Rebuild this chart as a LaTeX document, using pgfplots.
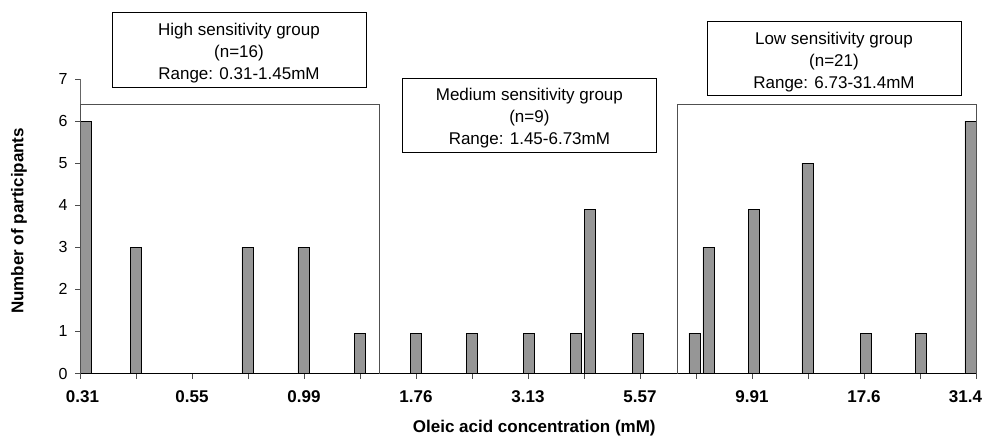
\documentclass[border=0pt]{standalone}
\usepackage{fontspec}
\setmainfont{Liberation Sans}
\usepackage{pgfplots}
\pgfplotsset{compat=1.18}
\definecolor{barfill}{RGB}{150,150,150}
\definecolor{framegray}{RGB}{80,80,80}
\begin{document}
\begin{tikzpicture}
\begin{axis}[
 scale only axis, width=896pt, height=294.5pt,
 xmin=0, xmax=16, ymin=0, ymax=7,
 clip=false,
 axis x line*=bottom, axis y line*=left,
 separate axis lines,
 x axis line style={-, black, line width=1.5pt},
 y axis line style={-, black!60, line width=0.8pt},
 tick align=outside,
 major tick length=5pt,
 xtick={0,...,16},
 xticklabels={\makebox[38pt][r]{0.31},,0.55,,0.99,,1.76,,3.13,,5.57,,9.91,,17.6,,\makebox[12pt][r]{31.4}},
 ytick={0,...,7},
 tick style={black!70, line width=0.6pt},
 /pgf/number format/assume math mode=true,
 xticklabel style={font=\fontsize{17}{17}\selectfont\bfseries, yshift=-9pt},
 yticklabel style={font=\fontsize{16}{16}\selectfont, xshift=-4pt},
 xlabel={Oleic acid concentration (mM)},
 ylabel={Number of participants},
 label style={font=\fontsize{17}{17}\selectfont\bfseries},
 xlabel style={at={(rel axis cs:0.507,-0.185)}, anchor=center},
 ylabel style={at={(rel axis cs:-0.0681,0.518)}, anchor=center},
]
\addplot[ybar, bar width=0.196, bar shift=0pt, fill=barfill, draw=black, line width=0.6pt] coordinates {
 (0.098,6) (1.0,3) (2.99,3) (3.99,3) (5.0,0.96) (6.0,0.96) (7.0,0.96) (8.01,0.96)
 (8.857,0.96) (9.098,3.9) (9.955,0.96) (10.97,0.96) (11.22,3) (12.03,3.9)
 (12.99,5) (14.04,0.96) (15.02,0.96) (15.9,6)
};
\draw[framegray, line width=0.8pt] (axis cs:0,0) -- (axis cs:0,6.406) -- (axis cs:5.339,6.406) -- (axis cs:5.339,0);
\draw[framegray, line width=0.8pt] (axis cs:10.66,0) -- (axis cs:10.66,6.406) -- (axis cs:16,6.406) -- (axis cs:16,0);
\draw[black, line width=0.8pt, fill=white] (axis cs:0.571,6.81) rectangle (axis cs:5.107,8.593);
\node[align=center, font=\fontsize{17}{22}\selectfont] at (axis cs:2.839,7.61) {High sensitivity group\\(n=16)\\Range: 0.31-1.45mM};
\draw[black, line width=0.8pt, fill=white] (axis cs:5.75,5.265) rectangle (axis cs:10.30,7.024);
\node[align=center, font=\fontsize{17}{22}\selectfont] at (axis cs:8.025,6.06) {Medium sensitivity group\\(n=9)\\Range: 1.45-6.73mM};
\draw[black, line width=0.8pt, fill=white] (axis cs:11.196,6.62) rectangle (axis cs:15.732,8.379);
\node[align=center, font=\fontsize{17}{22}\selectfont] at (axis cs:13.464,7.41) {Low sensitivity group\\(n=21)\\Range: 6.73-31.4mM};
\end{axis}
\pgfresetboundingbox
\path[use as bounding box] ([shift={(-80pt,-62.5pt)}]current axis.south west) rectangle ([shift={(904pt,373.5pt)}]current axis.south west);
\end{tikzpicture}
\end{document}
